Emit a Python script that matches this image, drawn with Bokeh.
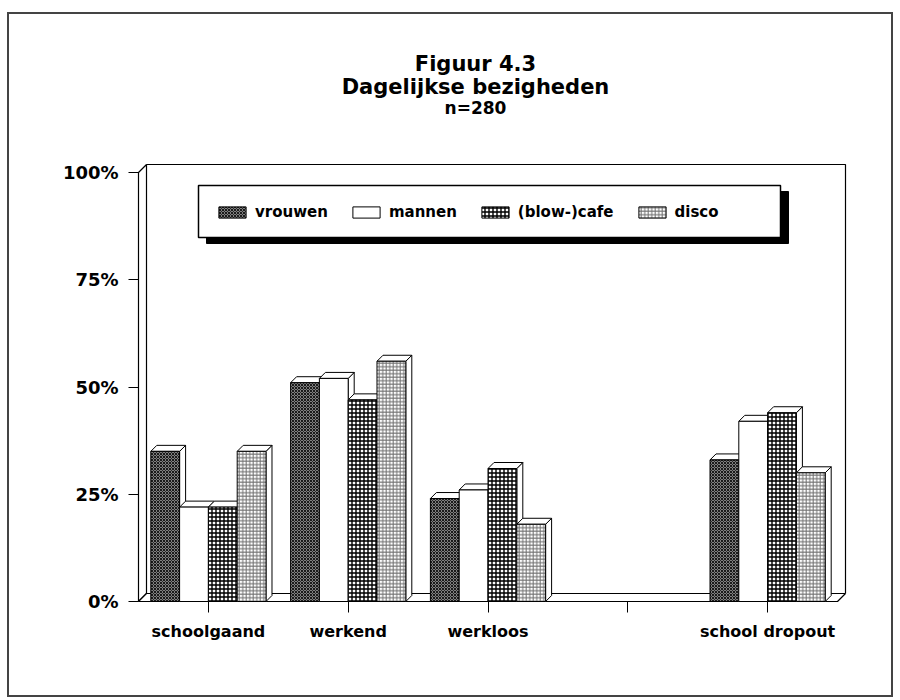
from bokeh.plotting import figure
from bokeh.models import Range1d, FixedTicker, PrintfTickFormatter, Legend, LegendItem
from bokeh.layouts import column
from bokeh.embed import file_html
from bokeh.resources import INLINE
from bokeh.core.properties import value

# ---------------- data ----------------
categories = ["schoolgaand", "werkend", "werkloos", "", "school dropout"]
series_names = ["vrouwen", "mannen", "(blow-)cafe", "disco"]
vrouwen = [35, 51, 24, None, 33]
mannen = [22, 52, 26, None, 42]
blowcafe = [22, 47, 31, None, 44]
disco = [35, 56, 18, None, 30]
y_ticks = [0, 25, 50, 75, 100]
title_lines = ["Figuur 4.3", "Dagelijkse bezigheden", "n=280"]

series = [vrouwen, mannen, blowcafe, disco]

# ---------------- styles ----------------
styles = [
    dict(fill_color="#808080", hatch_pattern="diagonal_cross", hatch_color="black",
         hatch_scale=3, hatch_weight=0.8),
    dict(fill_color="white"),
    dict(fill_color="white", hatch_pattern="cross", hatch_color="black",
         hatch_scale=4, hatch_weight=1.4),
    dict(fill_color="white", hatch_pattern="cross", hatch_color="#707070",
         hatch_scale=3.5, hatch_weight=1.0),
]

SX = 139.8   # px per category
SY = 4.29    # px per percent
n_cat = len(categories)
ymax = y_ticks[-1]

OX, OY = 9, 14      # page position of canvas origin
W, H = 882, 681

p = figure(width=W, height=H,
           x_range=Range1d(-2 / SX, (872 - 138) / SX),
           y_range=Range1d(-2 / SY, (601 - 20) / SY),
           output_backend="svg", toolbar_location=None,
           min_border_left=136 - OX, min_border_right=W - (872 - OX),
           min_border_top=20 - OY, min_border_bottom=H - (603 - OY))
p.grid.visible = False
p.outline_line_color = None
p.background_fill_color = "white"
p.border_fill_color = "white"

# ---------------- 3D walls ----------------
wdx, wdy = 8 / SX, 8 / SY
p.patch([0, 0, wdx, wdx], [0, ymax, ymax + wdy, wdy],
        fill_color="white", line_color="black", line_width=1.2)
p.patch([0, n_cat, n_cat + wdx, wdx], [0, 0, wdy, wdy],
        fill_color="white", line_color="black", line_width=1.2)
p.multi_line([[wdx, n_cat + wdx, n_cat + wdx]], [[ymax + wdy, ymax + wdy, wdy]],
             line_color="black", line_width=1.2)

# ---------------- bars ----------------
bw = 0.206
bdx, bdy = 6 / SX, 6 / SY
front_renderers = []
for k, vals in enumerate(series):
    cs = [i + 0.5 + (k - 1.5) * bw for i, v in enumerate(vals) if v is not None]
    vs = [v for v in vals if v is not None]
    ls = [c - bw / 2 for c in cs]
    rs = [c + bw / 2 for c in cs]
    side_xs = [[r, r + bdx, r + bdx, r] for r in rs]
    side_ys = [[0, bdy, v + bdy, v] for v in vs]
    top_xs = [[l, r, r + bdx, l + bdx] for l, r in zip(ls, rs)]
    top_ys = [[v, v, v + bdy, v + bdy] for v in vs]
    p.patches(side_xs, side_ys, fill_color="white", line_color="black", line_width=1)
    p.patches(top_xs, top_ys, fill_color="white", line_color="black", line_width=1)
    r = p.quad(left=ls, right=rs, bottom=[0] * len(vs), top=vs,
               line_color="black", line_width=1, **styles[k])
    front_renderers.append(r)

# ---------------- legend box ----------------
bx0, bx1 = (198 - 138) / SX, (780 - 138) / SX
by0, by1 = (601 - 237) / SY, (601 - 185) / SY
sdx, sdy = 8 / SX, 6 / SY
p.quad(left=[bx0 + sdx], right=[bx1 + sdx], bottom=[by0 - sdy], top=[by1 - sdy],
       fill_color="black", line_color="black")
p.quad(left=[bx0], right=[bx1], bottom=[by0], top=[by1],
       fill_color="white", line_color="black", line_width=1.5)

legend = Legend(items=[LegendItem(label=n, renderers=[r])
                       for n, r in zip(series_names, front_renderers)],
                orientation="horizontal", location=(79, 382),
                glyph_width=34, glyph_height=14, label_standoff=6, spacing=21,
                padding=8, margin=0, border_line_color=None,
                background_fill_alpha=0,
                label_text_font="DejaVu Sans", label_text_font_style="bold",
                label_text_font_size="15px", label_text_color="black")
p.add_layout(legend)

# ---------------- titles ----------------
tx = (475 - 138) / SX
p.text(x=[tx], y=[(601 - 63) / SY], text=[title_lines[0]], text_align="center",
       text_baseline="alphabetic", text_font=value("DejaVu Sans"),
       text_font_style="bold", text_font_size="21px", text_color="black")
p.text(x=[tx], y=[(601 - 86) / SY], text=[title_lines[1]], text_align="center",
       text_baseline="alphabetic", text_font=value("DejaVu Sans"),
       text_font_style="bold", text_font_size="21px", text_color="black")
p.text(x=[tx], y=[(601 - 107) / SY], text=[title_lines[2]], text_align="center",
       text_baseline="alphabetic", text_font=value("DejaVu Sans"),
       text_font_style="bold", text_font_size="17px", text_color="black")

# ---------------- axes ----------------
p.yaxis.ticker = FixedTicker(ticks=y_ticks)
p.yaxis.formatter = PrintfTickFormatter(format="%d%%")
p.yaxis.axis_line_color = None
p.yaxis.major_tick_out = 8
p.yaxis.major_tick_in = 2
p.yaxis.minor_tick_line_color = None
p.yaxis.major_label_standoff = 10
p.yaxis.major_label_text_font = "DejaVu Sans"
p.yaxis.major_label_text_font_style = "bold"
p.yaxis.major_label_text_font_size = "18px"
p.yaxis.major_label_text_color = "black"

xt = [i + 0.5 for i in range(n_cat)]
p.xaxis.ticker = FixedTicker(ticks=xt)
p.xaxis.major_label_overrides = {t: (c if c else " ") for t, c in zip(xt, categories)}
p.xaxis.axis_line_color = None
p.xaxis.major_tick_out = 9
p.xaxis.major_tick_in = 2
p.xaxis.minor_tick_line_color = None
p.xaxis.major_label_standoff = 9
p.xaxis.major_label_text_font = "DejaVu Sans"
p.xaxis.major_label_text_font_style = "bold"
p.xaxis.major_label_text_font_size = "16px"
p.xaxis.major_label_text_color = "black"

layout = column(p, styles={"border": "2px solid #444",
                           "margin-left": "7px", "margin-top": "12px"})
open("out.html", "w").write(file_html(layout, INLINE))
